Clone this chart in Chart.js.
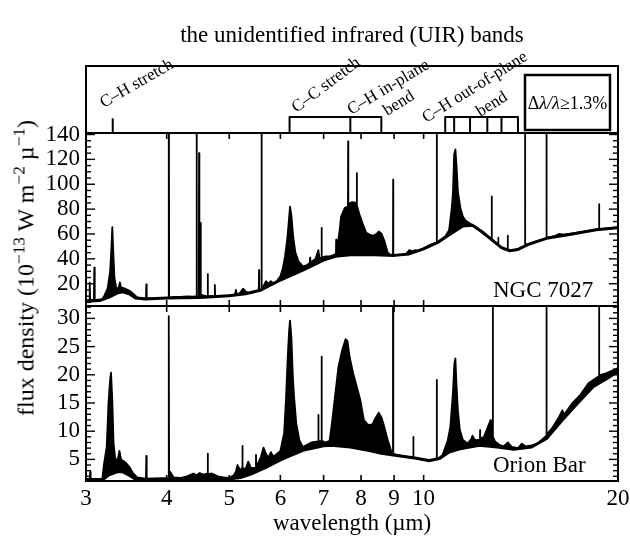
<!DOCTYPE html>
<html>
<head>
<meta charset="utf-8">
<script src="https://cdn.jsdelivr.net/npm/chart.js@4/dist/chart.umd.min.js"></script>
<style>
  body { margin: 0; background: #fff; }
  #wrap { position: relative; width: 630px; height: 538px; }
  #wrap canvas { position: absolute; left: 0; top: 0; }
  #ytitle {
    position: absolute; left: 26px; top: 268px;
    font-family: "Liberation Serif", serif; font-size: 24px; white-space: nowrap;
    transform: translate(-50%, -50%) rotate(-90deg);
  }
  #ytitle sup { font-size: 72%; line-height: 0; }
</style>
</head>
<body>
<div id="wrap">
  <canvas id="bands" width="630" height="538"></canvas>
  <canvas id="ngc" width="630" height="538"></canvas>
  <canvas id="orion" width="630" height="538"></canvas>
  <div id="ytitle">flux density (10<sup>−13</sup> W m<sup>−2</sup> µ<sup>−1</sup>)</div>
</div>
<script>
const SERIF = '"Liberation Serif", "DejaVu Serif", serif';

// axis tick labels
const xTicks = [3, 4, 5, 6, 7, 8, 9, 10, 20];
const ngcTicks = [20, 40, 60, 80, 100, 120, 140];
const orionTicks = [5, 10, 15, 20, 25, 30];

// band positions (micron)
const chStretchWl = [3.3];
const ccBandEdges = [6.2, 7.7, 8.6];
const oopBandEdges = [10.8, 11.15, 11.8, 12.55, 13.2, 14.0];

// NGC 7027 - smooth continuum
const ngcContWl = [3.0, 3.15, 3.25, 3.35, 3.42, 3.5, 3.58, 3.7, 4.0, 4.5, 5.0, 5.3, 5.6, 6.0, 6.5, 7.0, 7.3, 7.7,
  8.2, 9.0, 9.5, 10.0, 10.5, 11.0, 11.5, 11.9, 12.3, 12.7, 13.2, 13.6, 14.0, 14.5, 15.5, 17.0, 18.5, 20.0];
const ngcCont = [6, 6.5, 9, 12.5, 13.5, 12, 8.5, 7.8, 8.5, 9.0, 10.3, 12, 15, 23, 31, 39, 42, 43.3,
  43.5, 42.8, 44, 48, 53, 60, 66.5, 67, 62, 56, 49, 46.5, 47.5, 51.5, 56.5, 60, 63.4, 65];

// NGC 7027 - spectrum
const ngcWl = [3.0, 3.035, 3.04, 3.045, 3.085, 3.09, 3.095, 3.18, 3.2, 3.24, 3.27, 3.285, 3.295, 3.305, 3.32, 3.34,
  3.37, 3.385, 3.4, 3.45, 3.5, 3.55, 3.6, 3.715, 3.72, 3.725, 4.025, 4.03, 4.035, 4.1, 4.2, 4.3, 4.4, 4.445, 4.45,
  4.455, 4.485, 4.49, 4.495, 4.51, 4.515, 4.52, 4.6, 4.625, 4.63, 4.635, 4.745, 4.75, 4.755, 4.9, 5.0, 5.1, 5.12,
  5.14, 5.2, 5.25, 5.3, 5.35, 5.45, 5.5, 5.555, 5.56, 5.565, 5.605, 5.61, 5.615, 5.65, 5.7, 5.75, 5.8, 5.85, 5.9,
  6.0, 6.05, 6.1, 6.15, 6.18, 6.21, 6.24, 6.28, 6.33, 6.4, 6.5, 6.6, 6.665, 6.67, 6.675, 6.8, 6.87, 6.9, 6.945,
  6.95, 6.955, 7.05, 7.15, 7.25, 7.315, 7.32, 7.325, 7.4, 7.45, 7.55, 7.635, 7.64, 7.645, 7.75, 7.875, 7.88, 7.885,
  7.95, 8.05, 8.15, 8.25, 8.35, 8.45, 8.52, 8.6, 8.7, 8.8, 8.9, 8.965, 8.97, 8.975, 9.2, 9.4, 9.5, 9.6, 9.7, 9.8,
  10.0, 10.2, 10.475, 10.48, 10.485, 10.6, 10.8, 10.95, 11.05, 11.1, 11.15, 11.2, 11.25, 11.3, 11.4, 11.5, 11.6,
  11.8, 12.0, 12.2, 12.4, 12.6, 12.745, 12.75, 12.755, 12.9, 13.045, 13.05, 13.055, 13.3, 13.495, 13.5, 13.505,
  13.8, 14.0, 14.355, 14.36, 14.365, 15.0, 15.495, 15.5, 15.505, 16.0, 16.2, 16.5, 17.0, 17.5, 18.0, 18.695, 18.7,
  18.705, 19.2, 20.0];
const ngcFlux = [6.5, 7, 21, 7, 7, 33, 7, 7.5, 10, 16, 30, 50, 65.5, 48, 25, 17,
  16, 21, 17, 16, 14.5, 12, 9, 8.2, 19.5, 8.2, 8.6, 300, 8.6, 9.5, 9.5, 9.8, 9.6, 10, 300,
  10, 10, 125, 11, 11, 69, 11, 10, 10, 27.8, 10, 10, 19, 10, 10.3, 10.6, 11, 15,
  11, 13, 16, 14, 12.5, 13, 14, 14.5, 31, 14.5, 14.8, 300, 15, 18, 22, 20, 22, 20, 21,
  26, 32, 42, 56, 69, 82, 75, 58, 45, 38, 34, 35, 37, 41, 37, 40, 47, 40, 41,
  64.8, 41, 42, 42, 43, 44, 55.4, 45, 60, 74, 81, 82, 134.5, 84, 85.6, 85, 109, 83,
  76, 68, 61, 59.5, 58.5, 60, 62, 60.5, 54, 45, 43, 42.8, 103.7, 42.8, 43, 44, 47, 46, 47, 46.5,
  48.5, 51, 53, 300, 53, 55, 58, 63, 80, 92, 124, 128, 113, 94, 81, 74, 71,
  68.5, 66, 63, 60, 57.5, 56.5, 90.3, 56, 53, 52, 57, 51, 48, 47, 58.6, 47,
  47, 48, 50.5, 300, 51, 54.5, 56.5, 300, 56.8, 58.5, 60, 59.5, 60.5, 61.5, 62.5, 63.6, 84,
  63.6, 64.5, 65.5];

// Orion Bar - smooth continuum
const orionContWl = [3.0, 3.18, 3.25, 3.35, 3.42, 3.5, 3.58, 3.7, 4.0, 4.5, 5.0, 5.2, 5.4, 5.7, 6.0, 6.5, 7.0, 7.2,
  7.7, 8.2, 8.6, 9.2, 9.75, 10.2, 10.6, 10.95, 11.45, 12.2, 13.0, 13.8, 14.7, 15.5, 16.4, 17.3, 18.3, 19.2, 20.0];
const orionCont = [1.4, 1.4, 2.2, 2.8, 2.8, 2.2, 1.5, 1.4, 1.4, 1.4, 1.5, 1.8, 2.4, 3.6, 4.9, 6.6, 7.4, 7.5,
  7.2, 6.6, 6.1, 5.6, 5.2, 4.75, 5.2, 6.3, 6.95, 7.5, 7.2, 6.8, 7.2, 8.7, 12, 14.9, 17.9, 19.3, 20.6];

// Orion Bar - spectrum
const orionWl = [3.0, 3.04, 3.045, 3.05, 3.18, 3.2, 3.23, 3.25, 3.27, 3.28, 3.295, 3.31, 3.33, 3.36, 3.38, 3.4,
  3.45, 3.5, 3.55, 3.6, 3.715, 3.72, 3.725, 4.025, 4.03, 4.035, 4.05, 4.1, 4.2, 4.3, 4.4, 4.45, 4.5, 4.55, 4.625,
  4.63, 4.635, 4.7, 4.8, 4.9, 5.0, 5.08, 5.12, 5.15, 5.2, 5.235, 5.24, 5.245, 5.3, 5.35, 5.4, 5.495, 5.5, 5.505,
  5.6, 5.65, 5.7, 5.75, 5.8, 5.85, 5.9, 6.0, 6.08, 6.12, 6.16, 6.19, 6.21, 6.24, 6.27, 6.3, 6.35, 6.42, 6.5, 6.6,
  6.7, 6.865, 6.87, 6.875, 6.945, 6.95, 6.955, 7.05, 7.15, 7.2, 7.3, 7.38, 7.48, 7.57, 7.62, 7.68, 7.78, 7.88,
  7.98, 8.08, 8.2, 8.33, 8.42, 8.52, 8.6, 8.68, 8.8, 8.9, 8.965, 8.97, 8.975, 9.1, 9.3, 9.635, 9.64, 9.645, 9.9,
  10.2, 10.475, 10.48, 10.485, 10.7, 10.9, 11.0, 11.1, 11.16, 11.2, 11.24, 11.3, 11.38, 11.5, 11.7, 11.85, 11.9,
  12.0, 12.1, 12.225, 12.23, 12.235, 12.4, 12.55, 12.7, 12.795, 12.8, 12.805, 12.9, 13.1, 13.3, 13.5, 13.7, 14.0,
  14.2, 14.4, 14.7, 15.0, 15.495, 15.5, 15.505, 15.8, 16.2, 16.4, 16.5, 17.0, 17.5, 18.0, 18.695, 18.7, 18.705,
  19.2, 20.0];
const orionFlux = [1.5, 1.6, 2.8, 1.5, 1.6, 4.3, 7.2, 14.9, 19.3, 20.4, 15.5, 7.8, 5, 5, 6.5, 5,
  4.5, 3.7, 2.5, 1.8, 1.6, 5.6, 1.6, 1.7, 30.4, 1.8, 2.8, 1.8, 1.7, 2.0, 2.5, 2.2, 2.6, 2.3, 2.5,
  6.0, 2.4, 2.5, 2.0, 1.8, 1.7, 2.2, 2.8, 4, 3.0, 3.5, 7.4, 3.5, 3.3, 4.6, 3.5, 3.5, 5.8, 3.6,
  5.5, 7.1, 6, 5.3, 6.3, 5.5, 5.8, 6.5, 9.6, 15.5, 23.2, 27.9, 29.6, 26.7, 20.2, 16.1, 11.4, 8.4, 7.2, 7.6,
  8.0, 8.2, 12.9, 8.2, 8.3, 23.2, 8.3, 8, 8.3, 10.8, 16.7, 21.4, 24.4, 26.3, 26.0, 23.2, 20.2, 17.9,
  15.5, 12, 11.1, 11.2, 12.3, 13.3, 12.5, 11, 8.4, 6.6, 6.0, 300, 6.0, 5.8, 5.6, 5.3, 9.0, 5.3, 5.0,
  4.9, 5.0, 19.1, 5.0, 5.8, 8.4, 10.8, 16.7, 22, 22.9, 18.5, 13.7, 10.2, 8.5, 7.8, 8.6, 9.2,
  8.5, 8.4, 8.5, 10.2, 8.6, 9, 10.5, 12, 11, 300, 9, 8.2, 7.6, 7.3, 8.0, 7.2, 7.0,
  7.8, 7.3, 7.5, 7.8, 9.2, 300, 9.4, 10.5, 12.5, 13.7, 12.9, 15, 16.5, 18.5, 19.8, 300, 19.9,
  20.3, 21.2];

const pts = (xs, ys) => xs.map((x, i) => ({ x: x, y: ys[i] }));

function boxPath(edges, h) {
  const a = edges[0], b = edges[edges.length - 1];
  const out = [{x: a, y: 0}, {x: a, y: h}, {x: b, y: h}, {x: b, y: 0}];
  edges.slice(1, -1).forEach(e => {
    out.push({x: e, y: null}, {x: e, y: 0}, {x: e, y: h});
  });
  return out;
}

function seg(ctx, x1, y1, x2, y2) {
  ctx.beginPath(); ctx.moveTo(x1, y1); ctx.lineTo(x2, y2); ctx.stroke();
}

// frame with inward ticks
function framePlugin(opt) {
  return {
    id: 'frame',
    afterDraw(chart) {
      const {ctx, chartArea: a, scales} = chart;
      ctx.save();
      ctx.strokeStyle = '#000';
      if (opt.xTicks) {
        ctx.lineWidth = 1.6;
        xTicks.forEach(v => {
          const px = scales.x.getPixelForValue(v);
          seg(ctx, px, a.bottom, px, a.bottom - 6);
          seg(ctx, px, a.top, px, a.top + 6);
        });
      }
      if (opt.major) {
        const ys = scales.y;
        ctx.lineWidth = 1.4;
        const start = Math.ceil(ys.min / opt.minor);
        const end = Math.floor(ys.max / opt.minor);
        for (let k = start; k <= end; k++) {
          const v = k * opt.minor;
          const len = opt.major.includes(v) ? 9 : 5;
          const py = ys.getPixelForValue(v);
          seg(ctx, a.left, py, a.left + len, py);
          seg(ctx, a.right, py, a.right - len, py);
        }
      }
      ctx.lineWidth = 2;
      ctx.strokeRect(a.left, a.top, a.right - a.left, a.bottom - a.top);
      if (opt.label) {
        ctx.fillStyle = '#000';
        ctx.font = '23px ' + SERIF;
        ctx.textAlign = 'left';
        ctx.textBaseline = 'alphabetic';
        ctx.fillText(opt.label, a.left + 407, a.bottom - 9);
      }
      ctx.restore();
    }
  };
}

const bandText = {
  id: 'bandText',
  afterDraw(chart) {
    const {ctx, chartArea: a, scales} = chart;
    const px = v => scales.x.getPixelForValue(v);
    ctx.save();
    ctx.fillStyle = '#000';
    ctx.font = '17px ' + SERIF;
    ctx.textBaseline = 'alphabetic';
    const put = (t, x, y, deg) => {
      ctx.save(); ctx.translate(x, y); ctx.rotate(deg * Math.PI / 180);
      ctx.fillText(t, 0, 0); ctx.restore();
    };
    put('C–H stretch', px(3.3) - 9, a.bottom - 25, -30);
    put('C–C stretch', px(6.2) + 7, a.bottom - 20, -37);
    put('C–H in-plane', px(7.7) + 1, a.bottom - 18, -31);
    put('bend', px(8.6) + 6, a.bottom - 17, -32);
    put('C–H out-of-plane', px(10.8) - 19, a.bottom - 10, -32);
    put('bend', px(12.55) - 7, a.bottom - 16, -32);
    // resolution box
    const bx = a.right - 93, by = a.top + 9, bw = 85, bh = a.bottom - a.top - 12;
    ctx.lineWidth = 2.5;
    ctx.strokeRect(bx, by, bw, bh);
    const parts = [['Δ', ''], ['λ/λ', 'italic '], ['≥1.3%', '']];
    let w = 0;
    parts.forEach(p => { ctx.font = p[1] + '18px ' + SERIF; w += ctx.measureText(p[0]).width; });
    let x = bx + (bw - w) / 2;
    const y = by + bh / 2 + 6;
    parts.forEach(p => {
      ctx.font = p[1] + '18px ' + SERIF;
      ctx.fillText(p[0], x, y);
      x += ctx.measureText(p[0]).width;
    });
    ctx.restore();
  }
};

const lineDs = (data, width) => ({
  data: data, showLine: true, borderColor: '#000', borderWidth: width,
  pointRadius: 0, fill: false, spanGaps: false
});

const baseOpts = {
  responsive: false,
  animation: false,
  plugins: { legend: { display: false }, tooltip: { enabled: false } },
  elements: { line: { borderJoinStyle: 'round', tension: 0 } }
};

function yAxis(min, max, ticks) {
  return {
    min: min, max: max,
    grid: { display: false, drawTicks: false },
    border: { display: false },
    ticks: { color: '#000', padding: 6, autoSkip: false, font: { family: SERIF, size: 23 } },
    afterBuildTicks: s => { s.ticks = ticks.map(v => ({ value: v })); },
    afterFit: s => { s.width = 60; s.paddingTop = 0; s.paddingBottom = 0; }
  };
}

// top panel: band markers
new Chart(document.getElementById('bands'), {
  type: 'scatter',
  data: {
    datasets: [
      lineDs([{x: chStretchWl[0], y: 0}, {x: chStretchWl[0], y: 0.22}], 2),
      lineDs(boxPath(ccBandEdges, 0.24), 2),
      lineDs(boxPath(oopBandEdges, 0.24), 2)
    ]
  },
  options: Object.assign({}, baseOpts, {
    layout: { padding: { left: 86, right: 12, top: 0, bottom: 405 } },
    plugins: {
      legend: { display: false }, tooltip: { enabled: false },
      title: {
        display: true, text: 'the unidentified infrared (UIR) bands', color: '#000',
        font: { family: SERIF, size: 23, weight: 'normal', lineHeight: 1.2 },
        padding: { top: 22, bottom: 16.4 }
      }
    },
    scales: {
      x: { type: 'logarithmic', min: 3, max: 20, display: false },
      y: { min: 0, max: 1, display: false }
    }
  }),
  plugins: [framePlugin({}), bandText]
});

// middle panel: NGC 7027
new Chart(document.getElementById('ngc'), {
  type: 'scatter',
  data: {
    datasets: [
      lineDs(pts(ngcContWl, ngcCont), 3),
      Object.assign(lineDs(pts(ngcWl, ngcFlux), 1.8), { fill: { target: 0 }, backgroundColor: '#000' })
    ]
  },
  options: Object.assign({}, baseOpts, {
    layout: { padding: { left: 26, right: 12, top: 133, bottom: 232 } },
    scales: {
      x: { type: 'logarithmic', min: 3, max: 20, display: false },
      y: yAxis(2.1, 141.2, ngcTicks)
    }
  }),
  plugins: [framePlugin({ xTicks: true, major: ngcTicks, minor: 5, label: 'NGC 7027' })]
});

// bottom panel: Orion Bar
new Chart(document.getElementById('orion'), {
  type: 'scatter',
  data: {
    datasets: [
      lineDs(pts(orionContWl, orionCont), 3),
      Object.assign(lineDs(pts(orionWl, orionFlux), 1.8), { fill: { target: 0 }, backgroundColor: '#000' })
    ]
  },
  options: Object.assign({}, baseOpts, {
    layout: { padding: { left: 26, right: 12, top: 306, bottom: 0 } },
    scales: {
      x: {
        type: 'logarithmic', min: 3, max: 20,
        grid: { display: false, drawTicks: false },
        border: { display: false },
        ticks: {
          color: '#000', padding: 4, autoSkip: false, maxRotation: 0,
          font: { family: SERIF, size: 23 },
          callback: v => String(v)
        },
        afterBuildTicks: s => { s.ticks = xTicks.map(v => ({ value: v })); },
        afterFit: s => { s.height = 57; s.paddingLeft = 0; s.paddingRight = 0; },
        title: {
          display: true, text: 'wavelength (µm)', color: '#000',
          font: { family: SERIF, size: 23, lineHeight: 1.2 },
          padding: { top: 0, bottom: 0 }
        }
      },
      y: yAxis(1.17, 32.2, orionTicks)
    }
  }),
  plugins: [framePlugin({ xTicks: true, major: orionTicks, minor: 1, label: 'Orion Bar' })]
});
</script>
</body>
</html>
